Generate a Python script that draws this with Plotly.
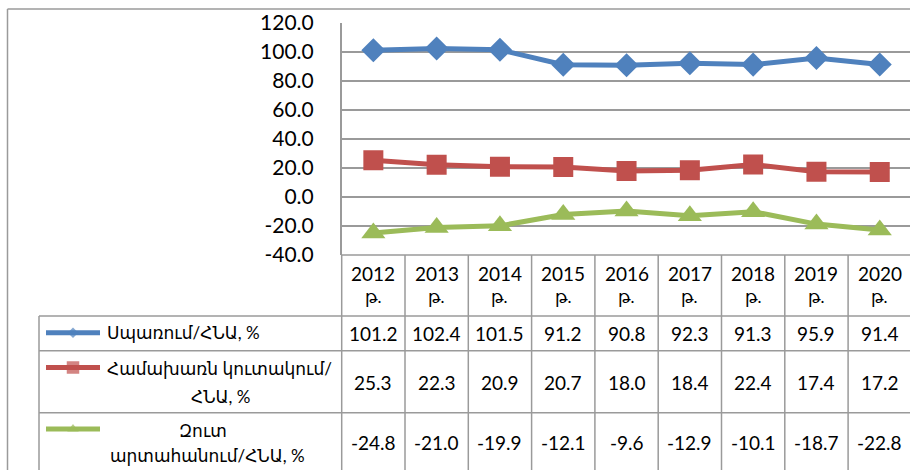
import plotly.graph_objects as go

# ---- data ----
years = ["2012", "2013", "2014", "2015", "2016", "2017", "2018", "2019", "2020"]
year_suffix = "թ."
consumption = [101.2, 102.4, 101.5, 91.2, 90.8, 92.3, 91.3, 95.9, 91.4]
investment = [25.3, 22.3, 20.9, 20.7, 18.0, 18.4, 22.4, 17.4, 17.2]
net_exports = [-24.8, -21.0, -19.9, -12.1, -9.6, -12.9, -10.1, -18.7, -22.8]
series_names = ["Սպառում/ՀՆԱ, %", "Համախառն կուտակում/ՀՆԱ, %", "Զուտ արտահանում/ՀՆԱ, %"]
y_ticks = [-40, -20, 0, 20, 40, 60, 80, 100, 120]

W, H = 910, 470
colors = ["#4F81BD", "#C0504D", "#9BBB59"]
symbols = ["diamond", "square", "triangle-up"]
msizes = [18.5, 20, 21]
key_sizes = [8, 12.5, 10]
grid = "#9a9a9a"
FONT = "Lato, DejaVu Sans, sans-serif"

# plot area geometry (pixels)
px_left, col_w = 341.7, 63.3
py_top, py_bot = 23, 255
n = len(years)
x_right_idx = (W - (px_left + col_w / 2)) / col_w

fig = go.Figure()
all_series = [consumption, investment, net_exports]
for vals, c, s, ms, name in zip(all_series, colors, symbols, msizes, series_names):
    fig.add_trace(go.Scatter(
        x=years, y=vals, mode="lines+markers", name=name,
        line=dict(color=c, width=5),
        marker=dict(symbol=s, size=ms, color=c),
        showlegend=False, xaxis="x", yaxis="y"))

# legend keys (pixel overlay axes)
key_rows = [332.7, 367.5, 429]
for c, s, ks, ky in zip(colors, symbols, key_sizes, key_rows):
    fig.add_trace(go.Scatter(
        x=[46, 73, 100], y=[ky, ky, ky], mode="lines+markers",
        line=dict(color=c, width=5),
        marker=dict(symbol=s, size=[0, ks, 0], color=c, line=dict(width=0)),
        showlegend=False, hoverinfo="skip", xaxis="x2", yaxis="y2"))

shapes = []
def hline(y, x0, x1):
    shapes.append(dict(type="line", xref="x2", yref="y2", x0=x0, x1=x1, y0=y, y1=y,
                       line=dict(color=grid, width=1.5), layer="below"))
def vline(x, y0, y1):
    shapes.append(dict(type="line", xref="x2", yref="y2", x0=x, x1=x, y0=y0, y1=y1,
                       line=dict(color=grid, width=1.5), layer="below"))

# outer frame
vline(7.5, 9, H)
hline(9, 7.5, W)
# table
hline(py_bot, px_left, W)
for yy in [316, 350.7, 412.7]:
    hline(yy, 39, W)
vline(39, 316, H)
for i in range(n + 1):
    vline(px_left + col_w * i, py_bot, H)

ann = []
def text(x, y, t, size=18.5, xanchor="center"):
    ann.append(dict(xref="x2", yref="y2", x=x, y=y, text=t, showarrow=False,
                    xanchor=xanchor, yanchor="middle", font=dict(family=FONT, size=size, color="#000")))

for i, yr in enumerate(years):
    cx = px_left + col_w * (i + 0.5)
    text(cx, 273, yr, size=19)
    text(cx, 296, year_suffix, size=17)
    text(cx, 333, f"{consumption[i]:.1f}", size=19)
    text(cx, 382, f"{investment[i]:.1f}", size=19)
    text(cx, 442, f"{net_exports[i]:.1f}", size=19)

# legend labels
text(105, 332.7, series_names[0], size=17, xanchor="left")
text(105, 368, "Համախառն կուտակում/", size=17, xanchor="left")
text(220, 396, "ՀՆԱ, %", size=17)
text(203, 430, "Զուտ", size=17)
text(207, 455, "արտահանում/ՀՆԱ, %", size=17)

fig.update_layout(
    width=W, height=H, margin=dict(l=0, r=0, t=0, b=0, pad=0, autoexpand=False),
    paper_bgcolor="white", plot_bgcolor="rgba(0,0,0,0)",
    xaxis=dict(domain=[px_left / W, 1], range=[-0.5, x_right_idx], type="category",
               anchor="y", automargin=False,
               showticklabels=False, showgrid=False, zeroline=False, showline=False, ticks=""),
    yaxis=dict(domain=[1 - py_bot / H, 1 - py_top / H], range=[-40, 120], anchor="x",
               automargin=False,
               tickvals=y_ticks, ticktext=[f"{v:.1f}" for v in y_ticks],
               showgrid=True, gridcolor=grid, gridwidth=1.5, zeroline=False,
               showline=True, linecolor=grid, linewidth=1.5, ticks="",
               ticklabelstandoff=22,
               tickfont=dict(family=FONT, size=21, color="#000")),
    xaxis2=dict(domain=[0, 1], range=[0, W], visible=False, anchor="y2", automargin=False),
    yaxis2=dict(domain=[0, 1], range=[H, 0], visible=False, anchor="x2", automargin=False),
    shapes=shapes, annotations=ann,
)
fig.write_html("out.html", config={"displayModeBar": False},
               post_script="document.body.style.margin='0';document.body.style.overflow='hidden';")
